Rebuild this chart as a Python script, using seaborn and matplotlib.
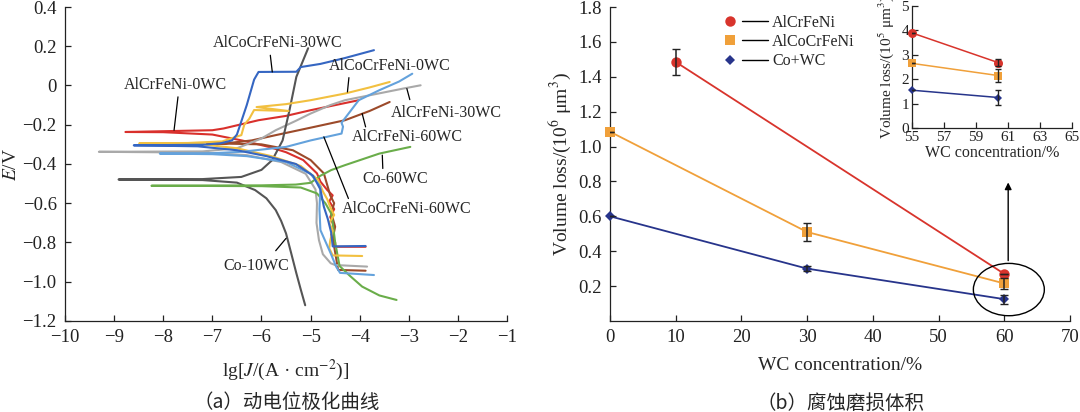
import numpy as np
import pandas as pd
import seaborn as sns
import matplotlib.pyplot as plt
from matplotlib.lines import Line2D
from matplotlib.legend_handler import HandlerTuple
from matplotlib.patches import Ellipse

# ---- (a) potentiodynamic polarization curves: lg J vs E ----
alcrfeni_0wc_x = [-3.88, -4.5, -4.5, -4.58, -4.52, -4.6, -4.52, -4.62, -4.55, -4.66, -4.8, -4.87, -5.15, -5.5, -5.85, -6.4, -7.0, -8.0, -8.77,
                  -8.0, -7.0, -6.77, -6.06, -5.5, -5.0, -4.5, -4.02]
alcrfeni_0wc_y = [-0.822, -0.822, -0.80, -0.76, -0.72, -0.67, -0.63, -0.59, -0.56, -0.533, -0.49, -0.448, -0.38, -0.34, -0.313, -0.28, -0.25, -0.238, -0.237,
                  -0.233, -0.228, -0.219, -0.177, -0.155, -0.126, -0.10, -0.075]

alcocrfeni_0wc_x = [-3.95, -4.55, -4.62, -4.6, -4.55, -4.62, -4.52, -4.6, -4.66, -4.75, -4.85, -5.2, -5.8, -6.5, -7.2, -8.49,
                    -7.5, -6.8, -6.5, -6.41, -6.35, -6.25, -6.15, -5.45, -6.1, -5.5, -5.0, -4.3, -3.8, -3.39]
alcocrfeni_0wc_y = [-0.869, -0.866, -0.83, -0.79, -0.74, -0.70, -0.66, -0.62, -0.58, -0.54, -0.48, -0.41, -0.36, -0.32, -0.30, -0.295,
                    -0.293, -0.285, -0.26, -0.253, -0.20, -0.17, -0.125, -0.13, -0.11, -0.095, -0.075, -0.041, -0.01, 0.018]

alcocrfeni_30wc_x = [-3.88, -4.55, -4.58, -4.65, -4.73, -4.8, -4.95, -5.3, -5.9, -6.5, -7.3, -8.6,
                     -7.2, -6.84, -6.6, -6.5, -6.3, -6.15, -6.06, -5.29, -5.2, -4.8, -4.3, -3.71]
alcocrfeni_30wc_y = [-0.818, -0.82, -0.75, -0.68, -0.618, -0.53, -0.46, -0.40, -0.36, -0.33, -0.31, -0.305,
                     -0.302, -0.295, -0.28, -0.25, -0.10, 0.03, 0.069, 0.07, 0.094, 0.11, 0.14, 0.18]

alcrfeni_30wc_x = [-3.85, -4.5, -4.59, -4.75, -4.83, -4.88, -4.87, -4.9, -5.1, -5.6, -6.3, -7.2, -9.31,
                   -7.2, -6.5, -6.0, -5.71, -5.3, -5.0, -4.6, -4.3, -3.6, -3.1, -2.76]
alcrfeni_30wc_y = [-0.923, -0.915, -0.906, -0.86, -0.788, -0.70, -0.60, -0.53, -0.45, -0.39, -0.355, -0.342, -0.338,
                   -0.336, -0.32, -0.27, -0.228, -0.18, -0.143, -0.10, -0.075, -0.04, -0.015, 0.001]

alcocrfeni_60wc_x = [-3.71, -4.4, -4.48, -4.59, -4.8, -4.82, -4.8, -5.0, -5.5, -6.3, -7.0, -8.07,
                     -7.0, -6.41, -5.5, -5.0, -4.37, -4.34, -4.37, -4.02, -3.6, -3.2, -2.93]
alcocrfeni_60wc_y = [-0.966, -0.955, -0.923, -0.856, -0.737, -0.63, -0.516, -0.45, -0.39, -0.36, -0.35, -0.347,
                     -0.345, -0.338, -0.313, -0.28, -0.245, -0.21, -0.19, -0.075, -0.024, 0.02, 0.06]

alcrfeni_60wc_x = [-3.88, -4.44, -4.5, -4.55, -4.5, -4.58, -4.52, -4.6, -4.73, -5.0, -5.36, -6.0, -6.77, -7.1,
                   -6.77, -6.2, -5.71, -5.0, -4.3, -3.8, -3.39]
alcrfeni_60wc_y = [-0.944, -0.94, -0.85, -0.78, -0.72, -0.65, -0.60, -0.56, -0.448, -0.38, -0.33, -0.30, -0.296, -0.297,
                   -0.296, -0.28, -0.253, -0.215, -0.177, -0.13, -0.084]

co_10wc_x = [-5.11, -5.2, -5.29, -5.4, -5.5, -5.6, -5.71, -5.9, -6.13, -6.5, -7.2, -8.91,
             -7.2, -6.41, -6.0, -5.78, -5.57, -5.43, -5.29, -5.05]
co_10wc_y = [-1.12, -1.04, -0.957, -0.85, -0.754, -0.69, -0.635, -0.575, -0.533, -0.495, -0.482, -0.479,
             -0.477, -0.466, -0.43, -0.38, -0.28, -0.126, 0.044, 0.19]

co_60wc_x = [-3.25, -3.6, -3.95, -4.2, -4.41, -4.5, -4.55, -4.58, -4.7, -4.87, -5.2, -6.0, -8.24,
             -6.0, -5.3, -5.0, -4.8, -4.58, -4.3, -3.6, -2.97]
co_60wc_y = [-1.093, -1.07, -1.025, -0.97, -0.92, -0.80, -0.70, -0.652, -0.60, -0.55, -0.52, -0.513, -0.511,
             -0.509, -0.505, -0.496, -0.46, -0.431, -0.406, -0.347, -0.313]

# ---- (b) corrosion-wear volume loss ----
wc_alcrfeni = [10, 60]
loss_alcrfeni = [1.485, 0.27]
err_alcrfeni = [0.075, 0.0]
wc_alcocrfeni = [0, 30, 60]
loss_alcocrfeni = [1.085, 0.51, 0.215]
err_alcocrfeni = [0.0, 0.05, 0.03]
wc_cowc = [0, 30, 60]
loss_cowc = [0.60, 0.30, 0.125]
err_cowc = [0.0, 0.015, 0.025]

# inset (10^5 um^3)
inset_wc = [55, 60.4]
inset_alcrfeni = [3.9, 2.68]
inset_alcrfeni_err = [0.0, 0.15]
inset_alcocrfeni = [2.65, 2.15]
inset_alcocrfeni_err = [0.0, 0.25]
inset_cowc = [1.55, 1.25]
inset_cowc_err = [0.0, 0.3]

series_names = ["AlCrFeNi", "AlCoCrFeNi", "Co+WC"]
series_colors = ["#d8342c", "#f0a03a", "#27348b"]
series_markers = ["o", "s", "D"]
series_msize = [7.5, 7, 5]

sns.set_style("ticks")
plt.rcParams["font.family"] = ["Liberation Serif", "DejaVu Serif"]
plt.rcParams["mathtext.fontset"] = "stix"
plt.rcParams["axes.unicode_minus"] = True

fig = plt.figure(figsize=(10.8, 4.12), dpi=100)
ax1 = fig.add_axes([0.0602, 0.221, 0.4093, 0.762])
ax2 = fig.add_axes([0.5648, 0.221, 0.4259, 0.762])
ax3 = fig.add_axes([0.8444, 0.6893, 0.1481, 0.296])

# --- left panel ---
curves = [
    (alcrfeni_0wc_x, alcrfeni_0wc_y, "#d9302c"),
    (alcrfeni_60wc_x, alcrfeni_60wc_y, "#9c4a2a"),
    (alcrfeni_30wc_x, alcrfeni_30wc_y, "#a9a9a9"),
    (co_10wc_x, co_10wc_y, "#555555"),
    (co_60wc_x, co_60wc_y, "#6aad4a"),
    (alcocrfeni_0wc_x, alcocrfeni_0wc_y, "#f2c040"),
    (alcocrfeni_60wc_x, alcocrfeni_60wc_y, "#64a2dc"),
    (alcocrfeni_30wc_x, alcocrfeni_30wc_y, "#3566c2"),
]
for cx, cy, col in curves:
    df = pd.DataFrame({"x": cx, "y": cy})
    sns.lineplot(data=df, x="x", y="y", sort=False, estimator=None, color=col, lw=1.5, ax=ax1)

labels_a = [
    ("AlCoCrFeNi-30WC", (-5.675, 0.217), (-5.82, 0.154), (-5.78, 0.069)),
    ("AlCoCrFeNi-0WC", (-3.39, 0.098), (-4.22, 0.04), (-4.25, -0.033)),
    ("AlCrFeNi-0WC", (-7.75, 0.0), (-7.70, -0.058), (-7.78, -0.228)),
    ("AlCrFeNi-30WC", (-2.23, -0.138), (-2.98, -0.072), (-3.04, -0.016)),
    ("AlCrFeNi-60WC", (-3.04, -0.262), (-3.88, -0.211), (-3.95, -0.143)),
    ("Co-60WC", (-3.27, -0.477), (-3.53, -0.423), (-3.54, -0.355)),
    ("AlCoCrFeNi-60WC", (-3.05, -0.632), (-4.23, -0.576), (-4.73, -0.262)),
    ("Co-10WC", (-6.11, -0.918), (-5.71, -0.842), (-5.50, -0.779)),
]
for txt, pos, p0, p1 in labels_a:
    ax1.text(pos[0], pos[1], txt, fontsize=11.5, ha="center", va="center")
    ax1.plot([p0[0], p1[0]], [p0[1], p1[1]], color="black", lw=0.9)

ax1.set_xlim(-10, -1)
ax1.set_ylim(-1.2, 0.4)
ax1.set_xticks(np.arange(-10, 0, 1))
yt = np.round(np.arange(-1.2, 0.41, 0.2), 1)
ax1.set_yticks(yt)
ax1.set_yticklabels([f"{v:.1f}".replace("-", "\u2212") if abs(v) > 1e-9 else "0" for v in yt])
ax1.set_xlabel(r"lg[$J$/(A · cm$^{-2}$)]", fontsize=14, labelpad=8)
ax1.set_ylabel(r"$E$/V", fontsize=14, labelpad=2)

# --- right panel ---
xs_list = [wc_alcrfeni, wc_alcocrfeni, wc_cowc]
ys_list = [loss_alcrfeni, loss_alcocrfeni, loss_cowc]
es_list = [err_alcrfeni, err_alcocrfeni, err_cowc]
for name, col, mk, ms, xs, ys, es in zip(series_names, series_colors, series_markers, series_msize,
                                          xs_list, ys_list, es_list):
    df = pd.DataFrame({"wc": xs, "loss": ys})
    sns.lineplot(data=df, x="wc", y="loss", color=col, marker=mk, markersize=ms,
                 markeredgewidth=0, lw=1.3, ax=ax2, zorder=3, clip_on=False)
    ax2.errorbar(xs, ys, yerr=es, fmt="none", ecolor="#222222", elinewidth=1.1, capsize=3, zorder=4)

ax2.set_xlim(0, 70)
ax2.set_ylim(0, 1.8)
ax2.set_xticks(np.arange(0, 71, 10))
yt2 = np.round(np.arange(0.2, 1.81, 0.2), 1)
ax2.set_yticks(yt2)
ax2.set_yticklabels([f"{v:.1f}" for v in yt2])
ax2.set_xlabel("WC concentration/%", fontsize=14, labelpad=8)
ax2.set_ylabel(r"Volume loss/(10$^{6}$ μm$^{3}$)", fontsize=14, labelpad=4)

ax2.add_patch(Ellipse((60.7, 0.18), 10.8, 0.30, fill=False, edgecolor="black", lw=1.0, zorder=5))
ax2.annotate("", xy=(60.6, 0.81), xytext=(60.6, 0.33),
             arrowprops=dict(arrowstyle="-|>", color="black", lw=1.0, mutation_scale=10))

handles = []
for col, mk, ms in zip(series_colors, series_markers, series_msize):
    m = Line2D([], [], ls="none", marker=mk, color=col, markersize=ms, markeredgewidth=0)
    ln = Line2D([], [], color="black", lw=1.0)
    handles.append((m, ln))
ax2.legend(handles, series_names, handler_map={tuple: HandlerTuple(ndivide=None, pad=-0.06)},
           loc="upper left", bbox_to_anchor=(0.2326, 0.975), frameon=False, fontsize=11.5,
           handlelength=3.2, handletextpad=0.25, labelspacing=0.2, borderpad=0, borderaxespad=0)

# --- inset ---
ins_y = [inset_alcrfeni, inset_alcocrfeni, inset_cowc]
ins_e = [inset_alcrfeni_err, inset_alcocrfeni_err, inset_cowc_err]
for col, mk, ms, ys, es in zip(series_colors, series_markers, series_msize, ins_y, ins_e):
    df = pd.DataFrame({"wc": inset_wc, "loss": ys})
    sns.lineplot(data=df, x="wc", y="loss", color=col, marker=mk, markersize=ms - 1,
                 markeredgewidth=0, lw=1.1, ax=ax3, zorder=3, clip_on=False)
    ax3.errorbar(inset_wc, ys, yerr=es, fmt="none", ecolor="#222222", elinewidth=1.0, capsize=2.5, zorder=4)
ax3.set_xlim(55, 65)
ax3.set_ylim(0, 5)
ax3.set_xticks(np.arange(55, 66, 2))
ax3.set_yticks(np.arange(0, 6, 1))
ax3.set_xlabel("WC concentration/%", fontsize=11.5, labelpad=1)
ax3.set_ylabel(r"Volume loss/(10$^{5}$ μm$^{3}$)", fontsize=11, labelpad=4)

for ax in (ax1, ax2, ax3):
    sns.despine(ax=ax)
    ax.tick_params(direction="in", length=4, width=0.9, colors="#222222")
    for s in ("left", "bottom"):
        ax.spines[s].set_color("#222222")
        ax.spines[s].set_linewidth(0.9)
ax1.tick_params(labelsize=13.5, pad=6)
ax2.tick_params(labelsize=13.5, pad=6)
ax3.tick_params(labelsize=11, pad=2)

cjk = ["Noto Sans CJK SC", "DejaVu Sans"]
fig.text(0.265, 0.022, "（a）动电位极化曲线", family=cjk, fontsize=14, ha="center", va="center")
fig.text(0.778, 0.022, "（b）腐蚀磨损体积", family=cjk, fontsize=14, ha="center", va="center")

fig.savefig("out.png", dpi=100)
